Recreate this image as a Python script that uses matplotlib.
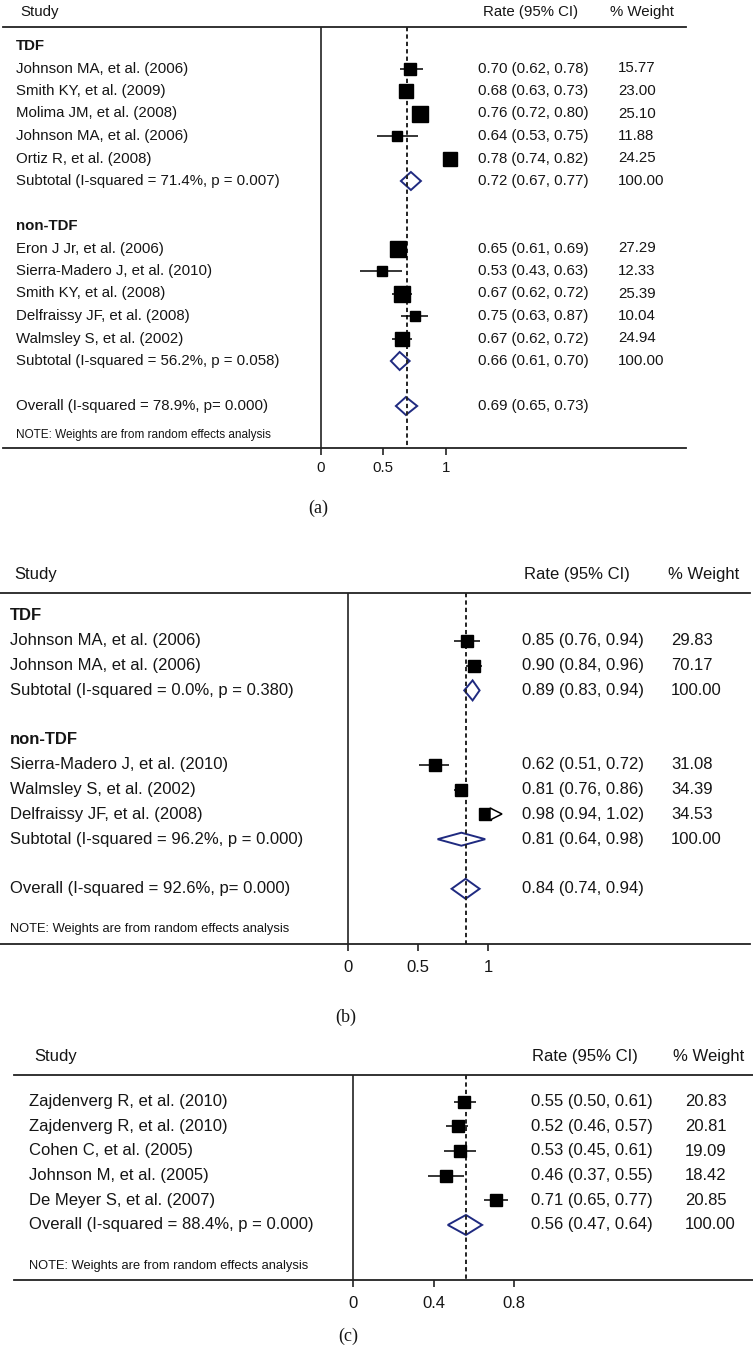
import matplotlib.pyplot as plt
from matplotlib.patches import Polygon
from matplotlib.transforms import blended_transform_factory, offset_copy

# ---------------- data ----------------
# panel (a)
a_tdf_names = ["Johnson MA, et al. (2006)", "Smith KY, et al. (2009)", "Molima JM, et al. (2008)",
               "Johnson MA, et al. (2006)", "Ortiz R, et al. (2008)"]
a_tdf_est = [0.70, 0.68, 0.76, 0.64, 0.78]
a_tdf_lo = [0.62, 0.63, 0.72, 0.53, 0.74]
a_tdf_hi = [0.78, 0.73, 0.80, 0.75, 0.82]
a_tdf_w = [15.77, 23.00, 25.10, 11.88, 24.25]
a_tdf_sub = [0.72, 0.67, 0.77]
a_tdf_sub_label = "Subtotal (I-squared = 71.4%, p = 0.007)"

a_non_names = ["Eron J Jr, et al. (2006)", "Sierra-Madero J, et al. (2010)", "Smith KY, et al. (2008)",
               "Delfraissy JF, et al. (2008)", "Walmsley S, et al. (2002)"]
a_non_est = [0.65, 0.53, 0.67, 0.75, 0.67]
a_non_lo = [0.61, 0.43, 0.62, 0.63, 0.62]
a_non_hi = [0.69, 0.63, 0.72, 0.87, 0.72]
a_non_w = [27.29, 12.33, 25.39, 10.04, 24.94]
a_non_sub = [0.66, 0.61, 0.70]
a_non_sub_label = "Subtotal (I-squared = 56.2%, p = 0.058)"
a_overall = [0.69, 0.65, 0.73]
a_overall_label = "Overall (I-squared = 78.9%, p= 0.000)"

# where the marks of panel (a) are actually drawn in the figure
a_tdf_mark_est = [0.71, 0.68, 0.79, 0.61, 1.03]
a_tdf_mark_lo = [0.63, 0.63, 0.73, 0.45, 0.98]
a_tdf_mark_hi = [0.82, 0.73, 0.86, 0.78, 1.08]
a_non_mark_est = [0.62, 0.49, 0.65, 0.75, 0.65]
a_non_mark_lo = [0.56, 0.31, 0.57, 0.64, 0.57]
a_non_mark_hi = [0.68, 0.65, 0.73, 0.86, 0.73]
a_tdf_sub_mark = [0.72, 0.64, 0.80]
a_non_sub_mark = [0.63, 0.56, 0.71]
a_overall_mark = [0.68, 0.60, 0.77]
a_ticks = [0, 0.5, 1]
a_ticklabels = ["0", "0.5", "1"]

# panel (b)
b_tdf_names = ["Johnson MA, et al. (2006)", "Johnson MA, et al. (2006)"]
b_tdf_est = [0.85, 0.90]
b_tdf_lo = [0.76, 0.84]
b_tdf_hi = [0.94, 0.96]
b_tdf_w = [29.83, 70.17]
b_tdf_sub = [0.89, 0.83, 0.94]
b_tdf_sub_label = "Subtotal (I-squared = 0.0%, p = 0.380)"
b_non_names = ["Sierra-Madero J, et al. (2010)", "Walmsley S, et al. (2002)", "Delfraissy JF, et al. (2008)"]
b_non_est = [0.62, 0.81, 0.98]
b_non_lo = [0.51, 0.76, 0.94]
b_non_hi = [0.72, 0.86, 1.02]
b_non_w = [31.08, 34.39, 34.53]
b_non_sub = [0.81, 0.64, 0.98]
b_non_sub_label = "Subtotal (I-squared = 96.2%, p = 0.000)"
b_overall = [0.84, 0.74, 0.94]
b_overall_label = "Overall (I-squared = 92.6%, p= 0.000)"
b_ticks = [0, 0.5, 1]
b_ticklabels = ["0", "0.5", "1"]

# panel (c)
c_names = ["Zajdenverg R, et al. (2010)", "Zajdenverg R, et al. (2010)", "Cohen C, et al. (2005)",
           "Johnson M, et al. (2005)", "De Meyer S, et al. (2007)"]
c_est = [0.55, 0.52, 0.53, 0.46, 0.71]
c_lo = [0.50, 0.46, 0.45, 0.37, 0.65]
c_hi = [0.61, 0.57, 0.61, 0.55, 0.77]
c_w = [20.83, 20.81, 19.09, 18.42, 20.85]
c_overall = [0.56, 0.47, 0.64]
c_overall_label = "Overall (I-squared = 88.4%, p = 0.000)"
c_ticks = [0, 0.4, 0.8]
c_ticklabels = ["0", "0.4", "0.8"]

NOTE = "NOTE: Weights are from random effects analysis"

# ---------------- drawing ----------------
W, H = 753, 1349
SANS = ['Liberation Sans Narrow', 'Liberation Sans', 'DejaVu Sans']
NAVY = '#1f2a80'
TXT = '#151515'

fig = plt.figure(figsize=(W / 100, H / 100), dpi=100)


def make_panel(top, bottom, zero_px, unit_px):
    ax = fig.add_axes([0, 1 - bottom / H, 1, (bottom - top) / H])
    ax.set_xlim(-zero_px / unit_px, (W - zero_px) / unit_px)
    ax.set_ylim(bottom, top)
    ax.axis('off')
    ax.tr = blended_transform_factory(ax.transAxes, ax.transData)
    return ax


def txt(ax, px, y, s, size, **kw):
    ax.text(px / W, y, s, transform=ax.tr, fontsize=size, family=SANS, va='center', color=TXT, **kw)


def fmt(v):
    return f"{v[0]:.2f} ({v[1]:.2f}, {v[2]:.2f})"


def study(ax, y, est, lo, hi, side, xmax=None):
    top = hi if xmax is None else min(hi, xmax)
    ax.plot([lo, top], [y, y], color='black', lw=1.1, solid_capstyle='butt')
    ax.plot([est], [y], marker='s', ms=side * 0.72, color='black', lw=0)
    if xmax is not None and hi > xmax:
        tr = offset_copy(ax.transData, fig=fig, x=5, y=0, units='dots')
        ax.plot([hi], [y], marker='>', ms=9, mfc='white', mec='black', mew=1.1, transform=tr)


def diamond(ax, y, v, h):
    est, lo, hi = v
    ax.add_patch(Polygon([[lo, y], [est, y - h / 2], [hi, y], [est, y + h / 2]],
                         closed=True, fill=False, ec=NAVY, lw=1.4))


def frame(ax, head_y, line_y, axis_y, x0, x1, cols, ticks, ticklabels, tick_y, size, dash_x, label, label_x, label_y):
    txt(ax, cols[0], head_y, "Study", size)
    txt(ax, cols[1], head_y, "Rate (95% CI)", size)
    txt(ax, cols[2], head_y, "% Weight", size)
    ax.plot([x0 / W, x1 / W], [line_y, line_y], color='#222222', lw=1.3, transform=ax.tr)
    ax.plot([x0 / W, x1 / W], [axis_y, axis_y], color='#222222', lw=1.3, transform=ax.tr)
    ax.vlines(0, line_y, axis_y, color='#222222', lw=1.2)
    ax.vlines(dash_x, line_y, axis_y, color='#222222', lw=1.4, linestyles=(0, (2.2, 1.6)))
    for t, tl in zip(ticks, ticklabels):
        ax.vlines(t, axis_y, axis_y + 7, color='#222222', lw=1.2)
        ax.text(t, tick_y, tl, ha='center', va='center', fontsize=size, family=SANS, color=TXT)
    ax.text(label_x / W, label_y, label, transform=ax.tr, ha='center', va='center',
            fontsize=13, family=['Liberation Serif', 'DejaVu Serif'], color=TXT)


# ---- panel (a) ----
ax = make_panel(0, 540, 320.7, 125.3)
fs = 10.8
cols = [20, 483, 610]
vals = [16, 478, 618]
frame(ax, 12, 27.3, 448, 3, 686, cols, a_ticks, a_ticklabels, 468, fs, a_overall[0], "(a)", 318, 508)
row = lambda r: 46 + 22.5 * r
txt(ax, vals[0], row(0), "TDF", fs, weight='bold')
for i, n in enumerate(a_tdf_names):
    y = row(1 + i)
    txt(ax, vals[0], y, n, fs)
    txt(ax, vals[1], y, fmt([a_tdf_est[i], a_tdf_lo[i], a_tdf_hi[i]]), fs)
    txt(ax, vals[2], y, f"{a_tdf_w[i]:.2f}", fs)
    study(ax, y, a_tdf_mark_est[i], a_tdf_mark_lo[i], a_tdf_mark_hi[i], 3.0 * a_tdf_w[i] ** 0.5)
txt(ax, vals[0], row(6), a_tdf_sub_label, fs)
txt(ax, vals[1], row(6), fmt(a_tdf_sub), fs)
txt(ax, vals[2], row(6), "100.00", fs)
diamond(ax, row(6), a_tdf_sub_mark, 18)
txt(ax, vals[0], row(8), "non-TDF", fs, weight='bold')
for i, n in enumerate(a_non_names):
    y = row(9 + i)
    txt(ax, vals[0], y, n, fs)
    txt(ax, vals[1], y, fmt([a_non_est[i], a_non_lo[i], a_non_hi[i]]), fs)
    txt(ax, vals[2], y, f"{a_non_w[i]:.2f}", fs)
    study(ax, y, a_non_mark_est[i], a_non_mark_lo[i], a_non_mark_hi[i], 3.0 * a_non_w[i] ** 0.5)
txt(ax, vals[0], row(14), a_non_sub_label, fs)
txt(ax, vals[1], row(14), fmt(a_non_sub), fs)
txt(ax, vals[2], row(14), "100.00", fs)
diamond(ax, row(14), a_non_sub_mark, 18)
txt(ax, vals[0], row(16), a_overall_label, fs)
txt(ax, vals[1], row(16), fmt(a_overall), fs)
diamond(ax, row(16), a_overall_mark, 18)
txt(ax, vals[0], 435, NOTE, 8.5)

# ---- panel (b) ----
ax = make_panel(540, 1035, 348.0, 140.0)
fs = 12.0
cols = [14, 524, 668]
vals = [10, 522, 671]
frame(ax, 575, 592.7, 943.5, 0, 750, cols, b_ticks, b_ticklabels, 967, fs, b_overall[0], "(b)", 346, 1017)
row = lambda r: 616 + 24.8 * r
txt(ax, vals[0], row(0), "TDF", fs, weight='bold')
for i, n in enumerate(b_tdf_names):
    y = row(1 + i)
    txt(ax, vals[0], y, n, fs)
    txt(ax, vals[1], y, fmt([b_tdf_est[i], b_tdf_lo[i], b_tdf_hi[i]]), fs)
    txt(ax, vals[2], y, f"{b_tdf_w[i]:.2f}", fs)
    study(ax, y, b_tdf_est[i], b_tdf_lo[i], b_tdf_hi[i], 12, xmax=1.0)
txt(ax, vals[0], row(3), b_tdf_sub_label, fs)
txt(ax, vals[1], row(3), fmt(b_tdf_sub), fs)
txt(ax, vals[2], row(3), "100.00", fs)
diamond(ax, row(3), b_tdf_sub, 20)
txt(ax, vals[0], row(5), "non-TDF", fs, weight='bold')
for i, n in enumerate(b_non_names):
    y = row(6 + i)
    txt(ax, vals[0], y, n, fs)
    txt(ax, vals[1], y, fmt([b_non_est[i], b_non_lo[i], b_non_hi[i]]), fs)
    txt(ax, vals[2], y, f"{b_non_w[i]:.2f}", fs)
    study(ax, y, b_non_est[i], b_non_lo[i], b_non_hi[i], 12, xmax=1.0)
txt(ax, vals[0], row(9), b_non_sub_label, fs)
txt(ax, vals[1], row(9), fmt(b_non_sub), fs)
txt(ax, vals[2], row(9), "100.00", fs)
diamond(ax, row(9), b_non_sub, 13)
txt(ax, vals[0], row(11), b_overall_label, fs)
txt(ax, vals[1], row(11), fmt(b_overall), fs)
diamond(ax, row(11), b_overall, 20)
txt(ax, vals[0], 929, NOTE, 9.3)

# ---- panel (c) ----
ax = make_panel(1035, 1349, 353.0, 201.7)
fs = 12.0
cols = [34, 532, 673]
vals = [29, 531, 685]
frame(ax, 1057, 1075, 1280, 14, 753, cols, c_ticks, c_ticklabels, 1303, fs, c_overall[0], "(c)", 348, 1336)
row = lambda r: 1101.7 + 24.65 * r
for i, n in enumerate(c_names):
    y = row(i)
    txt(ax, vals[0], y, n, fs)
    txt(ax, vals[1], y, fmt([c_est[i], c_lo[i], c_hi[i]]), fs)
    txt(ax, vals[2], y, f"{c_w[i]:.2f}", fs)
    study(ax, y, c_est[i], c_lo[i], c_hi[i], 2.7 * c_w[i] ** 0.5)
txt(ax, vals[0], row(5), c_overall_label, fs)
txt(ax, vals[1], row(5), fmt(c_overall), fs)
txt(ax, vals[2], row(5), "100.00", fs)
diamond(ax, row(5), c_overall, 20)
txt(ax, vals[0], 1266, NOTE, 9.3)

fig.savefig("out.png", dpi=100)
